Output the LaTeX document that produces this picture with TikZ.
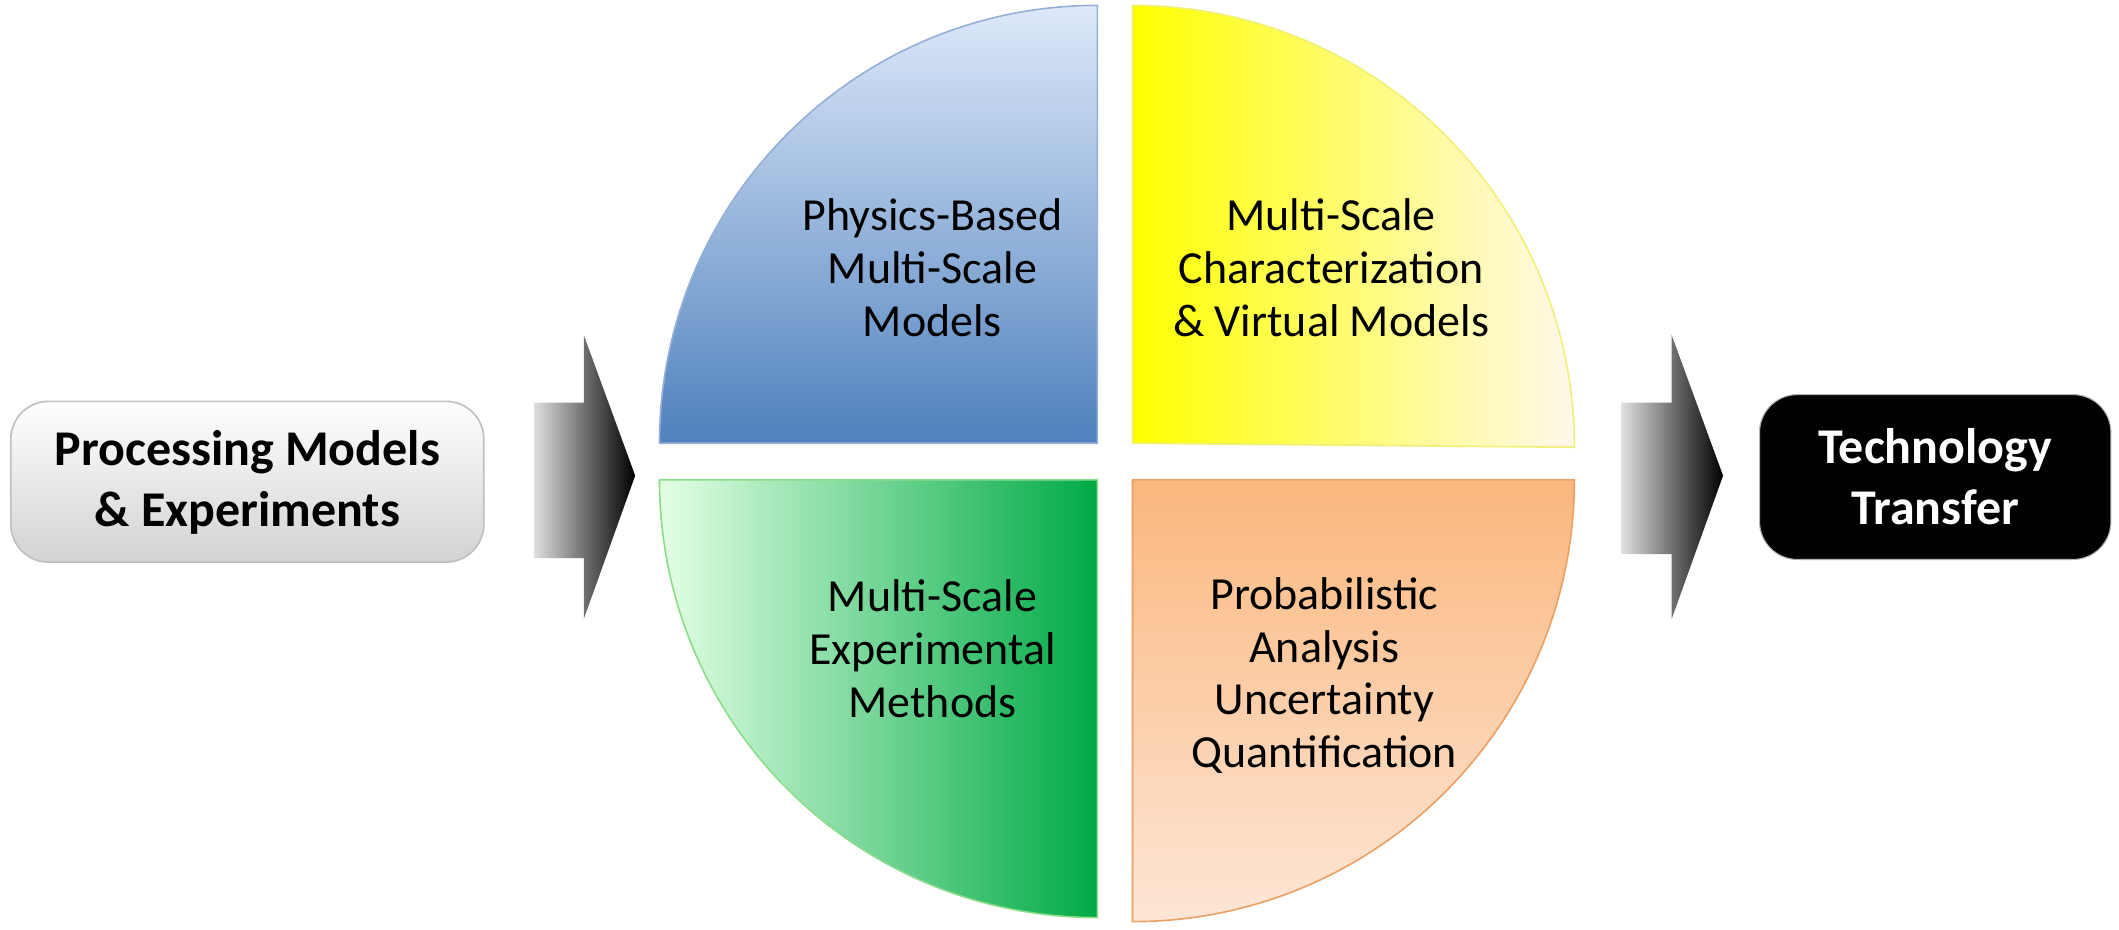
\documentclass[tikz,border=0pt]{standalone}
\usepackage{fontspec}
\setmainfont{Carlito}
\begin{document}
\begin{tikzpicture}[x=0.5pt,y=0.5pt,
  qtext/.style={align=center,font=\fontsize{17}{19.5}\selectfont},
  btext/.style={align=center,font=\bfseries\fontsize{18.5}{22.5}\selectfont},
  bigarrow/.style={left color=gray!25,right color=black,draw=none}]
\useasboundingbox (0,0) rectangle (1568,688);
% quadrants
\shade[top color={rgb,255:red,222;green,233;blue,250},bottom color={rgb,255:red,79;green,129;blue,189},draw={rgb,255:red,150;green,175;blue,215},line width=0.6pt]
  (812,360) -- (488,360) arc[start angle=180,end angle=90,radius=324] -- cycle;
\shade[left color={rgb,255:red,255;green,255;blue,0},right color={rgb,255:red,255;green,248;blue,235},draw={rgb,255:red,240;green,240;blue,120},line width=0.6pt]
  (838,360) -- (838,684) arc[start angle=90,end angle=0,radius=327] -- cycle;
\shade[left color={rgb,255:red,228;green,255;blue,228},middle color={rgb,255:red,20;green,245;blue,120},right color={rgb,255:red,0;green,170;blue,70},draw={rgb,255:red,140;green,220;blue,140},line width=0.6pt]
  (812,333) -- (488,333) arc[start angle=180,end angle=270,radius=324] -- cycle;
\shade[top color={rgb,255:red,251;green,183;blue,125},bottom color={rgb,255:red,253;green,230;blue,214},draw={rgb,255:red,235;green,160;blue,100},line width=0.6pt]
  (838,333) -- (1165,333) arc[start angle=0,end angle=-90,radius=327] -- cycle;
\node[qtext] (q1) at (690,490) {Physics-Based\\Multi-Scale\\Models};
\node[qtext] (q2) at (985,490) {Multi-Scale\\Characterization\\\& Virtual Models};
\node[qtext] (q3) at (690,208) {Multi-Scale\\Experimental\\Methods};
\node[qtext] (q4) at (980,188) {Probabilistic\\Analysis\\Uncertainty\\Quantification};
% arrows
\shade[bigarrow] (395,275) -- (432,275) -- (432,230) -- (470,336) -- (432,440) -- (432,390) -- (395,390) -- cycle;
\shade[bigarrow] (1200,278) -- (1237,278) -- (1237,230) -- (1275,336) -- (1237,440) -- (1237,390) -- (1200,390) -- cycle;
% boxes
\shade[rounded corners=14pt,top color=white,bottom color=gray!35,draw=gray!50,line width=0.6pt] (8,272) rectangle (358,391);
\node[btext] (pm) at (183,331) {Processing Models\\\& Experiments};
\fill[rounded corners=14pt,black,draw=gray!60] (1302,274) rectangle (1562,396);
\node[btext,text=white] (tt) at (1432,335) {Technology\\Transfer};
\end{tikzpicture}
\end{document}
